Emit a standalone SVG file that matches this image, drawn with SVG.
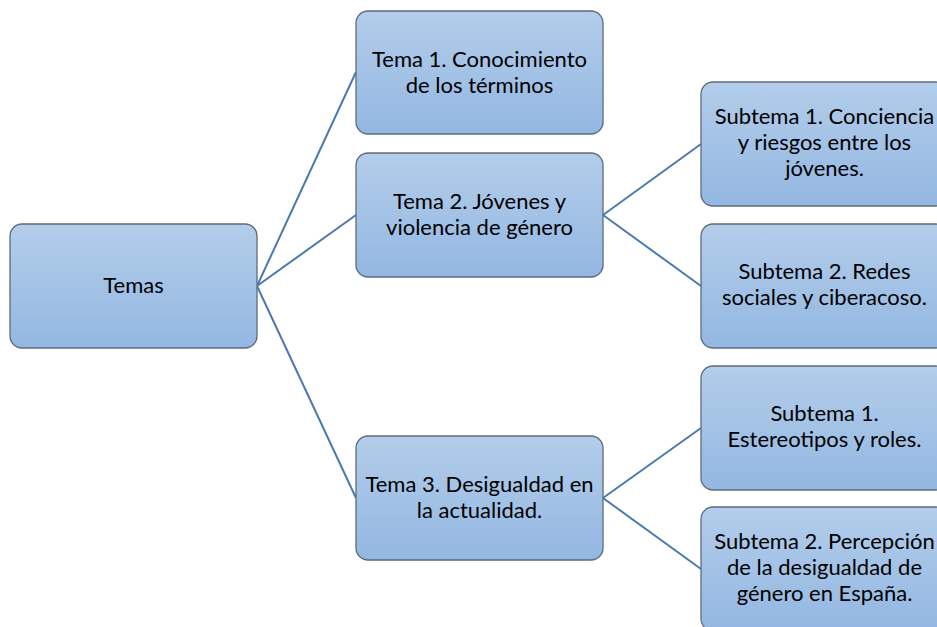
<svg xmlns="http://www.w3.org/2000/svg" width="937" height="627" viewBox="0 0 937 627">
<defs>
<linearGradient id="g" x1="0" y1="0" x2="0" y2="1">
<stop offset="0" stop-color="#b3cdea"/>
<stop offset="1" stop-color="#93b7e2"/>
</linearGradient>
<style>
.box{fill:url(#g);stroke:#5d6b7c;stroke-width:1.3}
.t{font-family:Lato,"Liberation Sans",sans-serif;font-size:22px;fill:#000;text-anchor:middle}
.c{stroke:#4a7ab0;stroke-width:2;fill:none}
</style>
</defs>
<rect width="937" height="627" fill="#fff"/>
<g id="connectors">
<path class="c" d="M257,286 L356,72 M257,286 L356,215 M257,286 L356,498 M603,215 L701,144 M603,215 L701,286 M603,498 L701,428 M603,498 L701,569"/>
</g>
<g id="temas"><rect class="box" x="10" y="224" width="247" height="124" rx="12"/><text class="t" x="133.5" y="293">Temas</text></g>
<g id="tema1"><rect class="box" x="356" y="11" width="247" height="123" rx="12"/><text class="t" x="479.5" y="67">Tema 1. Conocimiento</text><text class="t" x="479.5" y="93">de los términos</text></g>
<g id="tema2"><rect class="box" x="356" y="153" width="247" height="124" rx="12"/><text class="t" x="479.5" y="209">Tema 2. Jóvenes y</text><text class="t" x="479.5" y="235">violencia de género</text></g>
<g id="tema3"><rect class="box" x="356" y="436" width="247" height="124" rx="12"/><text class="t" x="479.5" y="492">Tema 3. Desigualdad en</text><text class="t" x="479.5" y="518">la actualidad.</text></g>
<g id="sub1"><rect class="box" x="701" y="82" width="247" height="124" rx="12"/><text class="t" x="824.5" y="124">Subtema 1. Conciencia</text><text class="t" x="824.5" y="150">y riesgos entre los</text><text class="t" x="824.5" y="176">jóvenes.</text></g>
<g id="sub2"><rect class="box" x="701" y="224" width="247" height="124" rx="12"/><text class="t" x="824.5" y="279">Subtema 2. Redes</text><text class="t" x="824.5" y="305">sociales y ciberacoso.</text></g>
<g id="sub3"><rect class="box" x="701" y="366" width="247" height="124" rx="12"/><text class="t" x="824.5" y="421">Subtema 1.</text><text class="t" x="824.5" y="447">Estereotipos y roles.</text></g>
<g id="sub4"><rect class="box" x="701" y="507" width="247" height="124" rx="12"/><text class="t" x="824.5" y="549">Subtema 2. Percepción</text><text class="t" x="824.5" y="575">de la desigualdad de</text><text class="t" x="824.5" y="601">género en España.</text></g>
</svg>
